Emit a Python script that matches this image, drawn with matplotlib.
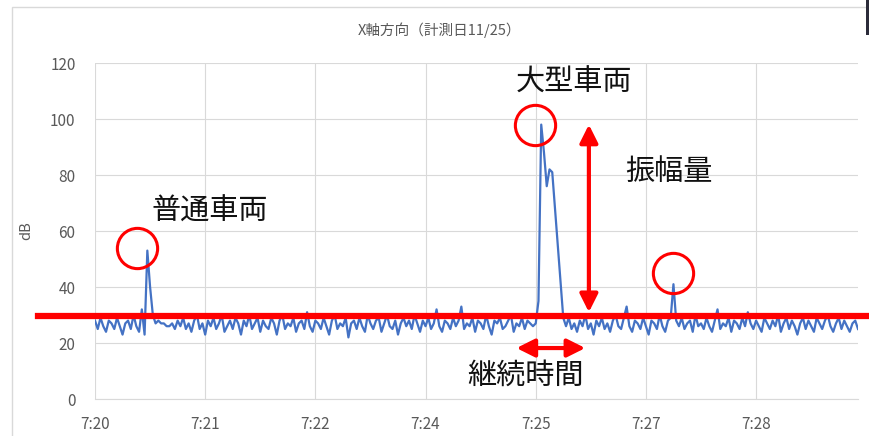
import numpy as np
import matplotlib
matplotlib.use("Agg")
import matplotlib.pyplot as plt
import matplotlib.transforms as mtransforms
from matplotlib.patches import Rectangle

plt.rcParams['font.family'] = ['Noto Sans CJK JP', 'DejaVu Sans']

# vibration level samples (dB)
db = [
    28, 25, 29, 26, 24, 28, 27, 25, 29, 26, 23, 27, 28, 25, 30, 26, 24, 32, 23, 53,
    40, 30, 27, 28, 27, 27, 26, 26, 27, 25, 28, 26, 29, 25, 27, 24, 28, 30, 25, 27,
    23, 28, 26, 29, 25, 27, 30, 24, 26, 28, 25, 29, 27, 23, 28, 26, 30, 25, 27, 29,
    24, 28, 26, 25, 29, 27, 23, 28, 30, 25, 27, 26, 29, 24, 27, 28, 25, 31, 26, 24,
    28, 27, 25, 29, 26, 23, 28, 30, 25, 27, 26, 29, 22, 27, 28, 25, 29, 26, 24, 30,
    27, 25, 28, 29, 24, 27, 30, 26, 25, 28, 23, 27, 29, 26, 28, 25, 30, 27, 24, 28,
    26, 29, 25, 27, 32, 26, 24, 28, 27, 25, 29, 26, 28, 33, 25, 27, 26, 29, 24, 28,
    27, 25, 30, 26, 23, 28, 27, 29, 25, 26, 28, 30, 24, 27, 26, 29, 25, 28, 27, 26,
    27, 35, 98, 88, 76, 82, 81, 68, 55, 42, 29, 26, 29, 25, 27, 24, 28, 26, 30, 25,
    27, 23, 28, 26, 29, 25, 27, 24, 28, 30, 26, 25, 29, 33, 26, 24, 28, 27, 25, 29,
    26, 23, 28, 27, 25, 30, 26, 24, 28, 29, 41, 28, 26, 29, 25, 27, 28, 24, 30, 26,
    27, 25, 29, 26, 24, 28, 32, 25, 27, 26, 29, 24, 28, 27, 25, 29, 26, 31, 27, 25,
    28, 26, 24, 29, 27, 25, 28, 26, 30, 24, 27, 29, 25, 28, 26, 23, 27, 29, 25, 28,
    26, 24, 29, 27, 25, 28, 30, 26, 24, 27, 29, 25, 28, 26, 24, 27, 28, 25,
]
tick_idx = [0, 40, 80, 120, 160, 200, 240]
tick_labels = ['7:20', '7:21', '7:22', '7:24', '7:25', '7:27', '7:28']
threshold = 29.6

# annotation points (sample index, dB)
circles = [(15.3, 53.9), (159.6, 97.9), (209.8, 45)]

gray = '#595959'
grid = '#D9D9D9'

fig = plt.figure(figsize=(8.7, 4.36), dpi=100)
ax = fig.add_axes([95/870, 1-399/436, 763/870, 336/436])

x = np.arange(len(db))
ax.plot(x, db, color='#4472C4', lw=1.6, zorder=3)

ax.set_xlim(0, len(db) - 1)
ax.set_ylim(0, 120)
ax.set_yticks(range(0, 121, 20))
ax.set_xticks(tick_idx)
ax.set_xticklabels(tick_labels)
ax.grid(True, color=grid, lw=0.8)
ax.set_axisbelow(True)
for s in ['top', 'right', 'left']:
    ax.spines[s].set_visible(False)
ax.spines['bottom'].set_color(grid)
ax.tick_params(length=0, colors=gray, labelsize=11)
ax.tick_params(axis='x', pad=12)
ax.tick_params(axis='y', pad=14)
ax.set_ylabel('dB', color=gray, fontsize=10.5, labelpad=12)
fig.text(440/870, 1-30/436, 'X軸方向（計測日11/25）', ha='center', va='center',
         color=gray, fontsize=10.5)

# red threshold line spanning beyond the plot area
tr = mtransforms.blended_transform_factory(fig.transFigure, ax.transData)
ax.plot([38/870, 1], [threshold, threshold], color='#FF0000', lw=4.5,
        transform=tr, clip_on=False, zorder=5)

cx = [c[0] for c in circles]
cy = [c[1] for c in circles]
ax.plot(cx, cy, 'o', mfc='none', mec='#FF0000', ms=29, mew=2.2,
        clip_on=False, zorder=6)

ax.annotate('', xy=(179.3, 98), xytext=(179.3, 31),
            arrowprops=dict(arrowstyle='<|-|>', color='#FF0000', lw=3,
                            mutation_scale=27, shrinkA=0, shrinkB=0), zorder=6)
ax.annotate('', xy=(153, 18.2), xytext=(178, 18.2),
            arrowprops=dict(arrowstyle='<|-|>', color='#FF0000', lw=3,
                            mutation_scale=27, shrinkA=0, shrinkB=0), zorder=6)

ax.text(173.8, 113, '大型車両', ha='center', va='center', fontsize=21, color='#111111')
ax.text(208.4, 81, '振幅量', ha='center', va='center', fontsize=21, color='#111111')
ax.text(41.8, 66.8, '普通車両', ha='center', va='center', fontsize=21, color='#111111')
ax.text(156.4, 8.2, '継続時間', ha='center', va='center', fontsize=21, color='#111111')

# chart frame and screenshot edge
fig.add_artist(Rectangle((12/870, -0.01), 1.0, 1-7/436 + 0.01, transform=fig.transFigure,
                         fill=False, ec='#D9D9D9', lw=1))
fig.add_artist(Rectangle((866/870, 1-35/436), 4/870, 35/436, transform=fig.transFigure,
                         color='#2B2B3A', lw=0))

fig.savefig('out.png', dpi=100)
